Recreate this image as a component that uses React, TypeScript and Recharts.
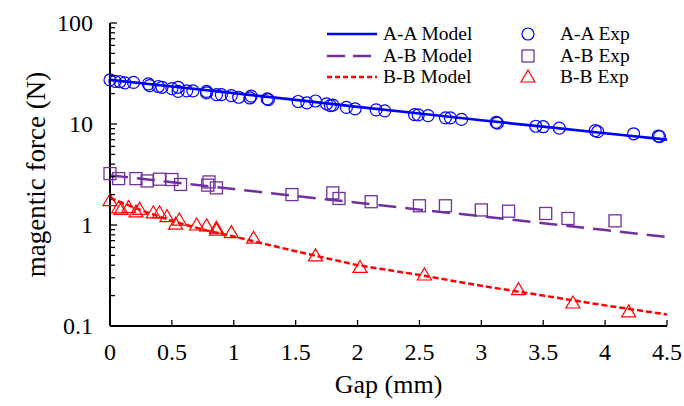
import { ComposedChart, Line, Scatter, XAxis, YAxis } from 'recharts';

const FONT = 'Liberation Serif, Times New Roman, Times, serif';
const BLUE = '#0000ff';
const PURPLE = '#7030a0';
const RED = '#ff0000';

// model curves
const aaModelX = [0, 0.5, 1, 1.5, 2, 2.5, 3, 3.5, 4, 4.5];
const aaModelY = [27.3, 23.5, 20.2, 17.3, 14.8, 12.7, 10.9, 9.4, 8.1, 7.0];
const abModelX = [0, 0.5, 1, 1.5, 2, 2.5, 3, 3.5, 4, 4.5];
const abModelY = [3.1, 2.65, 2.27, 1.94, 1.66, 1.42, 1.22, 1.04, 0.89, 0.76];
const bbModelX = [0, 0.25, 0.5, 0.75, 1, 1.25, 1.5, 2, 2.5, 3, 3.5, 4, 4.5];
const bbModelY = [1.85, 1.4, 1.1, 0.9, 0.77, 0.65, 0.55, 0.4, 0.32, 0.25, 0.2, 0.16, 0.13];

// experimental points
const aaExpX = [0, 0.04, 0.08, 0.12, 0.19, 0.31, 0.32, 0.39, 0.42, 0.5, 0.55, 0.55, 0.62, 0.67, 0.78, 0.78, 0.86, 0.9, 0.98, 1.04, 1.13, 1.14, 1.27, 1.28, 1.52, 1.59, 1.66, 1.75, 1.78, 1.8, 1.91, 1.98, 2.15, 2.22, 2.46, 2.49, 2.57, 2.71, 2.75, 2.84, 3.12, 3.13, 3.44, 3.5, 3.63, 3.92, 3.94, 4.23, 4.43, 4.44];
const aaExpY = [27.3, 26.4, 26.2, 25.5, 25.8, 25.0, 24.0, 23.5, 23.1, 22.4, 23.1, 21.0, 21.3, 21.3, 21.0, 20.3, 19.5, 19.5, 19.1, 18.4, 18.1, 18.9, 17.7, 17.4, 16.7, 16.2, 16.9, 15.8, 15.2, 15.4, 14.6, 14.1, 13.8, 13.5, 12.4, 12.3, 12.1, 11.5, 11.5, 11.1, 10.4, 10.2, 9.5, 9.4, 9.1, 8.6, 8.4, 8.0, 7.6, 7.5];
const abExpX = [0, 0.07, 0.21, 0.3, 0.4, 0.5, 0.57, 0.79, 0.8, 0.86, 1.47, 1.8, 1.85, 2.11, 2.5, 2.71, 3.0, 3.22, 3.52, 3.7, 4.08];
const abExpY = [3.23, 2.88, 2.88, 2.73, 2.84, 2.82, 2.52, 2.48, 2.67, 2.33, 2.0, 2.08, 1.83, 1.7, 1.55, 1.55, 1.41, 1.37, 1.3, 1.16, 1.1];
const bbExpX = [0, 0.07, 0.09, 0.15, 0.21, 0.24, 0.35, 0.4, 0.46, 0.53, 0.56, 0.7, 0.78, 0.86, 0.86, 0.98, 1.16, 1.66, 2.02, 2.54, 3.3, 3.74, 4.19];
const bbExpY = [1.74, 1.48, 1.43, 1.49, 1.35, 1.43, 1.32, 1.32, 1.21, 1.02, 1.12, 1.0, 0.98, 0.93, 0.89, 0.84, 0.74, 0.495, 0.38, 0.32, 0.229, 0.169, 0.138];

const xTicks = [0, 0.5, 1, 1.5, 2, 2.5, 3, 3.5, 4, 4.5];
const yTicks = [
  0.1, 0.2, 0.3, 0.4, 0.5, 0.6, 0.7, 0.8, 0.9,
  1, 2, 3, 4, 5, 6, 7, 8, 9,
  10, 20, 30, 40, 50, 60, 70, 80, 90,
  100,
];
const yLabels = [0.1, 1, 10, 100];

const zip = (xs: number[], ys: number[]) => xs.map((x, i) => ({ x, y: ys[i] }));

const TICK_MARGIN = 4;

const YTick = ({ x, y, payload }: any) => {
  const ax = x + TICK_MARGIN;
  const major = yLabels.includes(payload.value);
  return (
    <g>
      <line x1={ax} x2={ax + (major ? 7 : 5)} y1={y} y2={y} stroke="#000" strokeWidth={1.3} />
      {major && (
        <text x={ax - 17} y={y + 8} textAnchor="end" style={{ fontFamily: FONT }} fontSize={24} fill="#000">
          {payload.value}
        </text>
      )}
    </g>
  );
};

const XTick = ({ x, y, payload }: any) => {
  const ay = y - TICK_MARGIN;
  return (
    <g>
      <line x1={x} x2={x} y1={ay} y2={ay - 6} stroke="#000" strokeWidth={1.3} />
      <text x={x} y={ay + 34} textAnchor="middle" style={{ fontFamily: FONT }} fontSize={24} fill="#000">
        {payload.value}
      </text>
    </g>
  );
};

const Circle = ({ cx, cy }: any) => (
  <circle cx={cx} cy={cy} r={6} fill="none" stroke={BLUE} strokeWidth={1.2} />
);
const Square = ({ cx, cy }: any) => (
  <rect x={cx - 6} y={cy - 6} width={12} height={12} fill="none" stroke={PURPLE} strokeWidth={1.3} />
);
const Triangle = ({ cx, cy }: any) => (
  <path d={`M${cx},${cy - 7} L${cx + 7},${cy + 5} L${cx - 7},${cy + 5} Z`} fill="none" stroke={RED} strokeWidth={1.2} />
);

const legendRows = [
  { model: 'A-A Model', exp: 'A-A Exp', color: BLUE, dash: undefined, marker: 'circle' },
  { model: 'A-B Model', exp: 'A-B Exp', color: PURPLE, dash: '18 8', marker: 'square' },
  { model: 'B-B Model', exp: 'B-B Exp', color: RED, dash: '5 3', marker: 'triangle' },
];
const ROW = 21.7;

const legendText = (left: number) => ({
  position: 'absolute' as const,
  left,
  top: 0,
  display: 'block',
  height: 20,
  lineHeight: '20px',
  whiteSpace: 'nowrap' as const,
});

export default function App() {
  return (
    <div style={{ position: 'fixed', left: 0, top: 0, width: 684, height: 406, background: '#fff', fontFamily: FONT }}>
      <ComposedChart width={684} height={406} margin={{ top: 23, right: 17, left: 0, bottom: 0 }}>
        <XAxis
          dataKey="x"
          type="number"
          domain={[0, 4.5]}
          ticks={xTicks}
          interval={0}
          height={80}
          tickSize={0}
          tickMargin={TICK_MARGIN}
          tickLine={false}
          tick={<XTick />}
          axisLine={{ stroke: '#000', strokeWidth: 2 }}
          label={({ viewBox }: any) => (
            <text x={viewBox.x + viewBox.width / 2} y={viewBox.y + 67} textAnchor="middle" style={{ fontFamily: FONT }} fontSize={26} fill="#000">
              Gap (mm)
            </text>
          )}
        />
        <XAxis xAxisId="top" orientation="top" dataKey="x" type="number" domain={[0, 4.5]} height={0} tick={false} tickLine={false} axisLine={{ stroke: '#000', strokeWidth: 1.5 }} />
        <YAxis
          dataKey="y"
          type="number"
          scale="log"
          domain={[0.1, 100]}
          allowDataOverflow
          ticks={yTicks}
          interval={0}
          width={110}
          tickSize={0}
          tickMargin={TICK_MARGIN}
          tickLine={false}
          tick={<YTick />}
          axisLine={{ stroke: '#000', strokeWidth: 2 }}
          label={({ viewBox }: any) => {
            const cx = viewBox.x + 36;
            const cy = viewBox.y + viewBox.height / 2;
            return (
              <text x={cx} y={cy} transform={`rotate(-90 ${cx} ${cy})`} textAnchor="middle" dominantBaseline="central" style={{ fontFamily: FONT }} fontSize={27} fill="#000">
                magentic force (N)
              </text>
            );
          }}
        />
        <YAxis yAxisId="right" orientation="right" dataKey="y" type="number" scale="log" domain={[0.1, 100]} width={0} tick={false} tickLine={false} axisLine={{ stroke: '#000', strokeWidth: 1.5 }} />

        <Line data={zip(aaModelX, aaModelY)} dataKey="y" stroke={BLUE} strokeWidth={2.7} dot={false} isAnimationActive={false} />
        <Line data={zip(abModelX, abModelY)} dataKey="y" stroke={PURPLE} strokeWidth={2.5} strokeDasharray="18 9" dot={false} isAnimationActive={false} />
        <Line data={zip(bbModelX, bbModelY)} dataKey="y" stroke={RED} strokeWidth={2.5} strokeDasharray="6 3" dot={false} isAnimationActive={false} />

        <Scatter data={zip(aaExpX, aaExpY)} dataKey="y" shape={<Circle />} isAnimationActive={false} />
        <Scatter data={zip(abExpX, abExpY)} dataKey="y" shape={<Square />} isAnimationActive={false} />
        <Scatter data={zip(bbExpX, bbExpY)} dataKey="y" shape={<Triangle />} isAnimationActive={false} />
      </ComposedChart>

      {legendRows.map((r, i) => (
        <div key={r.model} style={{ position: 'absolute', left: 325, top: 24 + i * ROW, height: 20, width: 340, fontFamily: FONT, fontSize: 19.5, lineHeight: '20px', color: '#000' }}>
          <svg width={54} height={20} style={{ position: 'absolute', left: 0, top: 0 }}>
            <line x1={2} x2={52} y1={10} y2={10} stroke={r.color} strokeWidth={2.5} strokeDasharray={r.dash} />
          </svg>
          <span style={legendText(58)}>{r.model}</span>
          <svg width={20} height={20} style={{ position: 'absolute', left: 193, top: 0 }}>
            {r.marker === 'circle' && <Circle cx={10} cy={10} />}
            {r.marker === 'square' && <Square cx={10} cy={10} />}
            {r.marker === 'triangle' && <Triangle cx={10} cy={10} />}
          </svg>
          <span style={legendText(235)}>{r.exp}</span>
        </div>
      ))}
    </div>
  );
}
